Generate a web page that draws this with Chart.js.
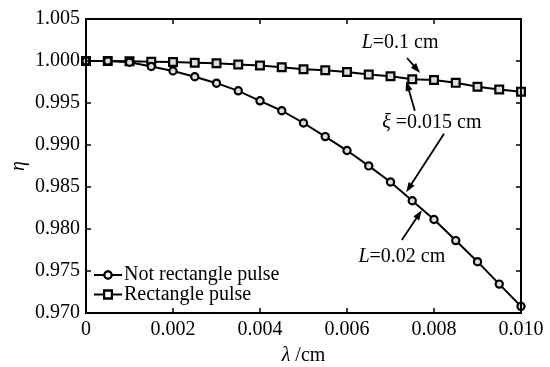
<!DOCTYPE html>
<html>
<head>
<meta charset="utf-8">
<script src="https://cdn.jsdelivr.net/npm/chart.js@4.4.1/dist/chart.umd.min.js"></script>
<style>
  html, body { margin: 0; padding: 0; background: #fff; }
  #wrap { width: 550px; height: 367px; position: relative; }
</style>
</head>
<body>
<div id="wrap"><canvas id="chart" width="550" height="367"></canvas></div>
<script>
// data
const lambda = [0, 0.0005, 0.001, 0.0015, 0.002, 0.0025, 0.003, 0.0035, 0.004, 0.0045, 0.005,
    0.0055, 0.006, 0.0065, 0.007, 0.0075, 0.008, 0.0085, 0.009, 0.0095, 0.010];
const notRect = [1.0000, 1.0000, 0.99985, 0.99935, 0.99882, 0.99813, 0.99736, 0.99645, 0.99526, 0.99408, 0.99262,
    0.99100, 0.98934, 0.98751, 0.98559, 0.98336, 0.98113, 0.97862, 0.97611, 0.97344, 0.97079];
const rect = [1.0000, 1.0000, 0.99996, 0.99992, 0.99988, 0.9998, 0.99973, 0.99959, 0.99947, 0.99925, 0.99902,
    0.9989, 0.9987, 0.99838, 0.99819, 0.99783, 0.99773, 0.9974, 0.99694, 0.9966, 0.99635];
const seriesNames = ['Not rectangle pulse', 'Rectangle pulse'];
const xTicks = [0, 0.002, 0.004, 0.006, 0.008, 0.010];
const yTicks = [0.970, 0.975, 0.980, 0.985, 0.990, 0.995, 1.000, 1.005];

// annotations in data units: [text parts], anchor; arrows from -> to
const labels = [
    { parts: [['L', true], ['=0.1 cm', false]], x: 0.00722, y: 1.00213 },
    { parts: [['ξ', true], [' =0.015 cm', false]], x: 0.00795, y: 0.99266 },
    { parts: [['L', true], ['=0.02 cm', false]], x: 0.00726, y: 0.97667 }
];
const arrows = [
    [0.00738, 1.00036, 0.00768, 0.99858],
    [0.00756, 0.99408, 0.00736, 0.99763],
    [0.00823, 0.99135, 0.00736, 0.98437],
    [0.00726, 0.97868, 0.00772, 0.98224]
];

const FONT = '"Liberation Serif", "Times New Roman", serif';

function pts(ys) { return lambda.map((x, i) => ({ x: x, y: ys[i] })); }

function drawArrow(ctx, x1, y1, x2, y2) {
    const a = Math.atan2(y2 - y1, x2 - x1);
    const len = 10, w = 3.5;
    ctx.beginPath();
    ctx.moveTo(x1, y1);
    ctx.lineTo(x2 - Math.cos(a) * len * 0.8, y2 - Math.sin(a) * len * 0.8);
    ctx.stroke();
    ctx.beginPath();
    ctx.moveTo(x2, y2);
    ctx.lineTo(x2 - Math.cos(a) * len - Math.sin(a) * w, y2 - Math.sin(a) * len + Math.cos(a) * w);
    ctx.lineTo(x2 - Math.cos(a) * len + Math.sin(a) * w, y2 - Math.sin(a) * len - Math.cos(a) * w);
    ctx.closePath();
    ctx.fill();
}

function drawParts(ctx, parts, cx, cy) {
    let total = 0;
    parts.forEach(p => {
        ctx.font = (p[1] ? 'italic ' : '') + '20px ' + FONT;
        total += ctx.measureText(p[0]).width;
    });
    let x = cx - total / 2;
    parts.forEach(p => {
        ctx.font = (p[1] ? 'italic ' : '') + '20px ' + FONT;
        ctx.fillText(p[0], x, cy);
        x += ctx.measureText(p[0]).width;
    });
}

const framePlugin = {
    id: 'frame',
    afterDatasetsDraw(chart) {
        const { ctx, chartArea: a, scales } = chart;
        const xs = scales.x, ys = scales.y;
        ctx.save();
        ctx.strokeStyle = '#000';
        ctx.fillStyle = '#000';
        ctx.lineWidth = 2;
        ctx.strokeRect(a.left, a.top, a.right - a.left, a.bottom - a.top);
        // inward ticks on all four sides
        ctx.lineWidth = 1.5;
        ctx.beginPath();
        xTicks.forEach(v => {
            const px = xs.getPixelForValue(v);
            ctx.moveTo(px, a.bottom); ctx.lineTo(px, a.bottom - 5);
            ctx.moveTo(px, a.top); ctx.lineTo(px, a.top + 5);
        });
        yTicks.forEach(v => {
            const py = ys.getPixelForValue(v);
            ctx.moveTo(a.left, py); ctx.lineTo(a.left + 5, py);
            ctx.moveTo(a.right, py); ctx.lineTo(a.right - 5, py);
        });
        ctx.stroke();

        // annotations
        ctx.lineWidth = 1.8;
        arrows.forEach(r => {
            drawArrow(ctx, xs.getPixelForValue(r[0]), ys.getPixelForValue(r[1]),
                xs.getPixelForValue(r[2]), ys.getPixelForValue(r[3]));
        });
        ctx.textBaseline = 'middle';
        ctx.textAlign = 'left';
        labels.forEach(l => drawParts(ctx, l.parts, xs.getPixelForValue(l.x), ys.getPixelForValue(l.y)));

        // x axis title with italic lambda
        drawParts(ctx, [['λ', true], [' /cm', false]], (a.left + a.right) / 2, 356);

        // legend, bottom-left inside the plot
        chart.data.datasets.forEach((ds, i) => {
            const y = 275 + i * 19.5;
            const x0 = a.left + 8;
            ctx.lineWidth = 2;
            ctx.beginPath();
            ctx.moveTo(x0, y); ctx.lineTo(x0 + 28, y);
            ctx.stroke();
            Chart.helpers.drawPoint(ctx, {
                pointStyle: ds.pointStyle, radius: ds.pointRadius, borderWidth: ds.pointBorderWidth
            }, x0 + 14, y);
            ctx.fillStyle = '#fff';
            ctx.fill();
            ctx.strokeStyle = '#000';
            ctx.lineWidth = ds.pointBorderWidth;
            ctx.stroke();
            ctx.fillStyle = '#000';
            ctx.font = '20px ' + FONT;
            ctx.fillText(ds.label, x0 + 30, y);
        });
        ctx.restore();
    }
};

new Chart(document.getElementById('chart'), {
    type: 'scatter',
    data: {
        datasets: [
            {
                label: seriesNames[0], data: pts(notRect), showLine: true,
                borderColor: '#000', borderWidth: 2,
                pointStyle: 'circle', pointRadius: 3.6, pointBorderWidth: 2.2,
                pointBorderColor: '#000', pointBackgroundColor: '#ddd'
            },
            {
                label: seriesNames[1], data: pts(rect), showLine: true,
                borderColor: '#000', borderWidth: 2,
                pointStyle: 'rect', pointRadius: 5.5, pointBorderWidth: 2.2,
                pointBorderColor: '#000', pointBackgroundColor: '#ddd'
            }
        ]
    },
    options: {
        responsive: false, animation: false, clip: false,
        layout: { padding: { left: 0, right: 29, top: 19, bottom: 0 } },
        plugins: { legend: { display: false }, tooltip: { enabled: false } },
        scales: {
            x: {
                type: 'linear', min: 0, max: 0.010,
                afterFit: s => { s.height = 54; },
                afterBuildTicks: s => { s.ticks = xTicks.map(v => ({ value: v })); },
                grid: { drawOnChartArea: false, drawTicks: false },
                border: { display: false },
                ticks: {
                    color: '#000', padding: 5, maxRotation: 0,
                    font: { family: FONT, size: 20 },
                    callback: v => v === 0 ? '0' : v.toFixed(3)
                },
                title: { display: false }
            },
            y: {
                type: 'linear', min: 0.970, max: 1.005,
                afterFit: s => { s.width = 86; },
                afterBuildTicks: s => { s.ticks = yTicks.map(v => ({ value: v })); },
                grid: { drawOnChartArea: false, drawTicks: false },
                border: { display: false },
                ticks: {
                    color: '#000', padding: 6,
                    font: { family: FONT, size: 20 },
                    callback: v => v.toFixed(3)
                },
                title: {
                    display: true, text: 'η', color: '#000',
                    font: { family: FONT, size: 20, style: 'italic' },
                    padding: { top: 7, bottom: 0 }
                }
            }
        }
    },
    plugins: [framePlugin]
});
</script>
</body>
</html>
